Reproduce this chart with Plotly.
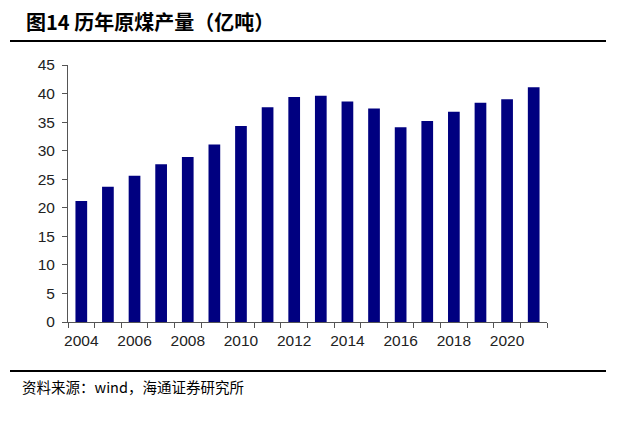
import plotly.graph_objects as go

years = list(range(2004, 2022))
output = [21.2, 23.7, 25.6, 27.6, 28.9, 31.1, 34.3, 37.6, 39.4, 39.6,
          38.6, 37.4, 34.1, 35.2, 36.8, 38.4, 39.0, 41.1]
x_tick_vals = [2004, 2006, 2008, 2010, 2012, 2014, 2016, 2018, 2020]
title_text = "<b>图14 历年原煤产量（亿吨）</b>"
source_text = "资料来源：wind，海通证券研究所"

OFF = 8  # page body margin in the browser
W, H = 624 - 2 * OFF, 434 - 2 * OFF
# target pixel positions in the reference (window coords)
L, R, T, B = 68, 547, 65, 322
ml, mt = L - OFF, T - OFF
mr, mb = W - (R - OFF), H - (B - OFF)
pw, ph = W - ml - mr, H - mt - mb

def px(x):
    return (x - OFF - ml) / pw

def py(y):
    return 1 - (y - OFF - mt) / ph

fig = go.Figure(go.Bar(
    x=years, y=output,
    marker=dict(color="#000080", line=dict(width=0)),
    width=0.44,
))

axis_color = "#555555"
tick_font = dict(family="Liberation Sans, Arial, sans-serif", size=15.5, color="#222222")
fig.update_layout(
    width=W, height=H,
    margin=dict(l=ml, r=mr, t=mt, b=mb),
    paper_bgcolor="white", plot_bgcolor="white",
    showlegend=False,
    font=dict(family="Liberation Sans, Arial, sans-serif", color="#222222", size=15),
    xaxis=dict(
        range=[2003.5, 2021.5],
        tickmode="array", tickvals=x_tick_vals,
        ticks="", showgrid=False, zeroline=False,
        showline=True, linecolor=axis_color, linewidth=1,
        minor=dict(ticks="outside", ticklen=5, tickcolor=axis_color,
                   tick0=2003.5, dtick=1, showgrid=False),
        tickfont=tick_font,
        ticklabelstandoff=4,
    ),
    yaxis=dict(
        range=[0, 45], dtick=5,
        ticks="outside", ticklen=5, tickcolor=axis_color,
        showgrid=False, zeroline=False,
        showline=True, linecolor=axis_color, linewidth=1,
        tickfont=tick_font,
        ticklabelstandoff=4,
    ),
)

line_style = dict(color="black", width=2)
for yy in (1, 41, 371):
    fig.add_shape(type="line", xref="paper", yref="paper",
                  x0=px(10), x1=px(606), y0=py(yy), y1=py(yy),
                  line=line_style)

fig.add_annotation(
    text=title_text, xref="paper", yref="paper",
    x=px(25), y=py(22), xanchor="left", yanchor="middle",
    showarrow=False, borderpad=0,
    font=dict(family="Noto Sans CJK SC", size=20, color="black"),
)
fig.add_annotation(
    text=source_text, xref="paper", yref="paper",
    x=px(20), y=py(386), xanchor="left", yanchor="middle",
    showarrow=False,
    font=dict(family="Noto Sans CJK SC", size=14.5, color="black"),
)

fig.write_html("out.html")
